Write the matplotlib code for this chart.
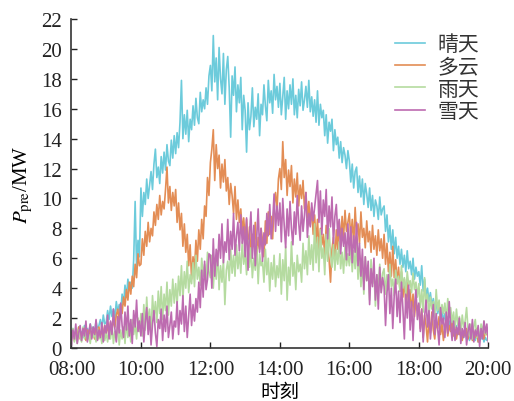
import numpy as np
import matplotlib
matplotlib.use("Agg")
import matplotlib.pyplot as plt

# 2.5-minute samples, 08:00 .. 20:00 (one row per hour, last value = 20:00)
sunny = [
    0.9, 1.3, 0.7, 1.2, 0.6, 1.4, 0.9, 1.1, 0.7, 1.5, 1.0, 1.3, 0.8, 1.6, 1.1, 1.4, 1.0, 1.8, 1.2, 1.5, 1.9, 1.3, 2.2, 1.6,
    1.7, 2.5, 1.9, 2.8, 2.1, 2.6, 2.0, 3.1, 2.4, 2.9, 2.3, 3.6, 2.9, 4.2, 3.4, 4.6, 3.9, 4.4, 4.0, 5.9, 9.8, 5.4, 7.2, 6.1,
    10.7, 8.8, 10.4, 9.6, 11.3, 10.0, 10.9, 11.8, 10.6, 12.3, 13.3, 11.4, 12.1, 11.0, 12.8, 11.7, 13.1, 11.9, 13.6, 12.5, 12.2, 13.9, 12.7, 14.2,
    13.0, 14.4, 13.4, 15.1, 17.9, 14.0, 15.6, 14.3, 15.9, 13.8, 15.3, 14.6, 16.2, 14.9, 16.7, 15.4, 15.0, 17.1, 15.8, 16.6, 16.0, 17.4, 16.3, 18.2,
    18.9, 17.2, 20.9, 17.8, 19.4, 16.6, 20.1, 18.0, 17.0, 19.7, 16.3, 18.6, 19.5, 17.4, 14.1, 18.2, 16.9, 18.8, 15.8, 17.6, 16.4, 18.1, 14.6, 16.9,
    15.9, 13.1, 16.4, 14.6, 15.5, 17.4, 14.8, 16.1, 15.3, 17.0, 14.2, 16.3, 15.6, 17.6, 16.2, 15.2, 17.9, 16.4, 17.2, 15.7, 18.3, 16.6, 17.5, 16.1,
    17.7, 15.6, 16.8, 18.1, 15.3, 17.2, 16.0, 17.6, 16.3, 18.0, 15.6, 16.9, 15.4, 17.3, 16.2, 17.8, 15.9, 16.6, 17.5, 16.1, 17.9, 15.8, 16.8, 15.5,
    16.6, 15.1, 17.2, 14.9, 16.3, 15.4, 15.9, 14.2, 15.6, 13.7, 15.1, 14.5, 15.3, 13.2, 14.6, 13.6, 14.1, 12.7, 13.8, 12.4, 13.4, 12.9, 12.0, 13.2,
    12.5, 11.1, 12.3, 10.7, 11.8, 12.1, 10.4, 11.5, 10.1, 11.3, 9.6, 11.0, 10.3, 9.4, 10.7, 9.2, 10.2, 8.8, 9.9, 9.5, 8.6, 10.1, 8.9, 9.3,
    9.5, 7.8, 8.9, 7.1, 8.2, 6.6, 7.9, 6.3, 7.4, 6.0, 6.8, 5.6, 6.6, 5.4, 6.2, 5.1, 6.5, 5.3, 5.8, 4.9, 6.0, 4.6, 5.4, 4.8,
    5.1, 4.2, 5.5, 3.8, 4.6, 3.4, 4.0, 3.1, 3.7, 2.8, 3.3, 2.6, 3.0, 2.3, 2.7, 2.1, 2.5, 1.8, 2.3, 1.6, 2.1, 1.5, 1.9, 1.4,
    1.7, 1.1, 1.5, 0.9, 1.4, 0.8, 1.2, 0.7, 1.3, 0.6, 1.0, 0.5, 1.1, 0.7, 0.9, 0.5, 1.0, 0.4, 0.8, 0.6, 0.9, 0.4, 0.7, 0.5,
    0.6,
]
cloudy = [
    0.8, 1.2, 0.5, 1.1, 0.7, 1.4, 0.6, 1.0, 0.9, 1.3, 0.5, 1.2, 0.8, 1.5, 0.7, 1.1, 0.6, 1.3, 0.9, 1.4, 0.7, 1.2, 1.0, 1.5,
    0.9, 1.5, 1.0, 1.7, 1.2, 1.9, 1.4, 2.2, 2.6, 1.8, 2.9, 2.3, 3.4, 2.8, 3.9, 3.2, 4.4, 3.6, 4.8, 4.1, 5.6, 4.7, 6.3, 5.5,
    5.6, 7.3, 6.2, 7.8, 6.8, 8.4, 7.1, 8.0, 7.5, 9.1, 8.2, 9.6, 8.6, 10.2, 8.9, 9.8, 9.3, 10.6, 12.1, 9.7, 10.8, 9.2, 10.4, 9.5,
    10.6, 8.4, 9.7, 7.9, 9.0, 6.8, 8.3, 6.4, 7.6, 5.5, 6.9, 4.6, 6.1, 5.2, 7.2, 5.8, 7.9, 6.6, 8.6, 7.3, 9.5, 8.8, 11.4, 10.2,
    12.4, 13.3, 14.6, 11.2, 13.6, 12.0, 12.9, 10.7, 12.3, 11.1, 12.6, 10.5, 11.4, 9.6, 11.0, 10.2, 9.0, 10.8, 8.6, 9.9, 8.4, 9.3, 7.8, 8.7,
    7.3, 8.6, 6.5, 8.1, 6.2, 7.6, 6.9, 8.4, 6.0, 7.4, 6.6, 8.0, 7.2, 6.1, 8.5, 7.0, 9.1, 7.6, 8.8, 7.3, 9.6, 10.4, 9.2, 11.3,
    12.0, 10.6, 13.8, 11.4, 12.6, 10.2, 11.9, 10.8, 12.2, 9.7, 11.3, 10.1, 11.7, 9.5, 10.9, 10.0, 11.2, 9.3, 10.4, 8.7, 9.8, 8.2, 9.4, 7.6,
    8.9, 7.0, 8.6, 6.4, 8.0, 6.9, 7.6, 6.1, 8.2, 6.7, 5.9, 4.4, 6.6, 7.4, 5.8, 7.9, 6.6, 8.5, 7.1, 8.8, 7.4, 9.2, 7.8, 8.4,
    9.0, 7.3, 8.6, 6.9, 9.4, 7.6, 8.3, 7.0, 9.1, 7.4, 8.0, 6.7, 8.5, 7.1, 7.8, 6.4, 8.2, 6.6, 7.5, 6.2, 7.9, 6.5, 7.3, 6.0,
    7.6, 5.6, 7.0, 5.1, 6.4, 4.8, 6.8, 4.7, 5.9, 4.3, 5.4, 3.8, 5.1, 3.4, 4.6, 2.9, 4.4, 2.7, 3.9, 2.4, 3.6, 2.1, 3.2, 2.5,
    2.9, 1.3, 2.6, 0.7, 2.2, 1.5, 0.4, 1.9, 1.0, 2.4, 1.2, 0.6, 1.8, 1.3, 2.1, 0.9, 1.6, 0.5, 1.4, 1.8, 0.8, 1.5, 1.1, 1.7,
    0.8, 1.4, 0.6, 1.2, 0.9, 1.5, 0.5, 1.1, 0.8, 1.3, 0.6, 1.0, 1.2, 0.5, 1.1, 0.7, 1.3, 0.4, 1.0, 0.8, 1.2, 0.6, 1.1, 0.9,
    0.8,
]
rainy = [
    0.6, 1.3, 0.4, 1.0, 0.3, 1.2, 0.7, 0.4, 1.4, 0.6, 1.1, 0.5, 0.9, 0.3, 1.2, 0.7, 1.0, 0.4, 1.3, 0.6, 0.9, 0.3, 1.1, 0.5,
    1.0, 0.4, 1.3, 0.6, 1.6, 0.3, 1.1, 0.5, 1.7, 0.2, 1.2, 0.6, 1.4, 0.3, 1.8, 0.7, 1.5, 0.4, 1.9, 0.9, 1.6, 0.6, 2.0, 1.1,
    2.3, 0.8, 2.9, 1.2, 3.4, 1.6, 2.6, 0.9, 3.5, 2.0, 3.1, 1.7, 3.8, 2.3, 4.1, 1.9, 3.6, 2.5, 4.4, 2.2, 3.9, 2.8, 4.6, 3.0,
    4.3, 2.9, 4.8, 3.5, 5.5, 3.2, 5.1, 4.0, 5.8, 3.7, 4.9, 4.3, 5.7, 4.1, 6.2, 4.6, 5.4, 4.2, 6.0, 4.8, 5.6, 4.4, 6.4, 5.1,
    4.7, 6.2, 4.0, 5.8, 4.6, 6.5, 3.9, 5.5, 4.4, 5.9, 2.9, 5.2, 5.8, 4.5, 6.6, 5.0, 6.2, 4.8, 6.9, 5.3, 6.4, 5.0, 7.1, 5.6,
    6.4, 4.9, 7.2, 5.4, 6.7, 4.7, 6.0, 5.2, 6.8, 4.3, 6.3, 5.5, 5.8, 4.4, 6.6, 4.9, 6.0, 3.8, 5.7, 4.6, 6.2, 4.1, 5.5, 4.7,
    6.3, 3.6, 5.9, 4.5, 6.8, 3.2, 5.4, 4.2, 7.1, 4.8, 5.7, 3.9, 6.2, 5.1, 5.6, 4.4, 7.0, 5.3, 6.5, 4.9, 7.5, 5.6, 6.9, 5.2,
    8.3, 5.7, 7.4, 5.1, 7.9, 6.0, 6.7, 4.9, 7.6, 5.8, 8.0, 6.2, 5.4, 6.9, 5.2, 6.6, 5.6, 7.1, 5.3, 6.4, 5.0, 6.8, 5.5, 6.3,
    5.5, 6.9, 5.1, 6.5, 5.3, 7.0, 4.6, 6.2, 4.1, 5.8, 3.6, 6.1, 4.5, 5.4, 3.2, 5.9, 4.3, 5.1, 2.8, 4.9, 4.0, 5.6, 3.7, 5.0,
    5.3, 3.6, 4.9, 3.9, 5.6, 4.1, 4.6, 3.5, 5.2, 4.3, 4.8, 3.8, 5.5, 4.0, 4.7, 3.6, 5.1, 4.2, 4.5, 3.7, 5.0, 3.9, 4.4, 3.4,
    4.3, 2.7, 3.9, 2.4, 4.7, 2.9, 3.6, 2.2, 3.4, 2.6, 3.1, 2.0, 3.9, 2.5, 3.2, 1.9, 2.9, 2.3, 3.0, 1.8, 3.3, 2.1, 2.7, 1.7,
    2.4, 1.3, 2.6, 1.5, 2.1, 1.0, 2.2, 1.4, 1.8, 2.7, 1.2, 0.8, 1.6, 0.6, 1.4, 1.9, 0.7, 1.3, 0.5, 1.6, 1.0, 1.8, 0.9, 1.3,
    0.5,
]
snowy = [
    0.2, 1.2, 0.6, 1.6, 0.3, 1.0, 1.5, 0.5, 1.3, 0.8, 1.8, 0.4, 1.1, 1.6, 0.6, 1.4, 0.9, 1.9, 0.5, 1.2, 0.7, 1.7, 0.4, 1.5,
    1.0, 2.2, 0.6, 1.8, 0.9, 2.6, 1.3, 0.4, 2.1, 1.0, 3.0, 1.5, 0.7, 2.4, 1.2, 2.8, 0.8, 1.9, 0.3, 2.5, 1.4, 3.2, 1.1, 1.8,
    0.8, 2.3, 0.4, 1.7, 2.7, 0.9, 2.1, 0.2, 1.6, 2.5, 1.0, 0.1, 1.9, 1.3, 2.6, 0.5, 2.2, 1.1, 2.8, 0.7, 1.5, 2.4, 0.6, 1.8,
    1.4, 3.1, 0.9, 2.5, 1.6, 3.5, 1.1, 2.8, 0.7, 2.2, 3.6, 1.5, 2.9, 1.8, 3.3, 2.4, 4.4, 2.7, 5.2, 3.4, 5.8, 3.9, 4.6, 6.3,
    6.2, 4.0, 7.3, 4.8, 6.6, 5.5, 7.6, 6.0, 8.3, 5.7, 7.1, 6.4, 8.6, 5.9, 7.8, 6.6, 9.0, 6.2, 7.5, 8.4, 6.5, 8.9, 7.0, 8.1,
    6.1, 8.7, 5.2, 7.6, 9.1, 6.0, 8.2, 5.5, 7.4, 9.3, 6.4, 8.0, 5.8, 7.7, 6.9, 9.0, 7.5, 9.6, 7.3, 8.4, 10.3, 7.8, 9.5, 8.2,
    9.7, 7.1, 10.0, 8.2, 6.7, 9.3, 7.5, 9.8, 8.0, 6.9, 9.1, 7.6, 10.2, 8.4, 7.2, 9.5, 7.8, 8.9, 10.4, 7.4, 9.0, 8.1, 9.7, 8.5,
    9.4, 10.3, 11.2, 8.4, 10.5, 7.6, 9.9, 8.8, 10.6, 7.3, 9.5, 8.1, 10.1, 7.0, 8.8, 9.6, 7.5, 8.6, 6.3, 8.0, 6.8, 7.7, 5.9, 8.3,
    6.2, 8.1, 5.7, 7.5, 6.4, 8.4, 5.5, 7.0, 4.8, 6.6, 3.9, 6.1, 4.5, 5.8, 2.9, 5.3, 4.1, 6.0, 3.2, 4.9, 2.6, 5.4, 3.7, 4.7,
    4.1, 1.5, 3.7, 4.9, 2.3, 4.0, 1.3, 3.5, 4.6, 2.1, 3.8, 1.7, 4.4, 2.6, 0.6, 3.6, 2.0, 4.2, 1.2, 3.1, 0.5, 2.8, 3.9, 1.9,
    3.0, 1.1, 2.6, 0.4, 2.1, 3.2, 1.4, 2.5, 0.6, 1.9, 2.9, 0.9, 2.3, 1.3, 0.2, 2.7, 1.6, 2.0, 0.7, 2.4, 1.0, 3.1, 1.5, 0.5,
    1.8, 0.5, 1.4, 0.9, 2.0, 0.3, 1.3, 0.7, 1.7, 0.2, 1.1, 1.6, 0.6, 1.9, 0.4, 1.2, 0.8, 1.5, 0.1, 1.3, 0.6, 1.8, 1.0, 1.6,
    0.4,
]
series_names = ["晴天", "多云", "雨天", "雪天"]
series_colors = ["#6ccbdb", "#e38d55", "#b5dba0", "#bd6bb0"]
tick_hours = [8, 10, 12, 14, 16, 18, 20]
tick_labels = ["08:00", "10:00", "12:00", "14:00", "16:00", "18:00", "20:00"]

plt.rcParams["font.family"] = ["Liberation Serif", "Noto Sans CJK SC"]
plt.rcParams["mathtext.fontset"] = "stix"
plt.rcParams["font.size"] = 15

fig = plt.figure(figsize=(5.14, 4.02), dpi=100)
ax = fig.add_axes([0.139, 0.132, 0.811, 0.818])

for vals, name, color in zip([sunny, cloudy, rainy, snowy], series_names, series_colors):
    hours = 8 + np.arange(len(vals)) * 2.5 / 60
    ax.plot(hours, vals, color=color, lw=1.2, label=name)

ax.set_xlim(8, 20)
ax.set_ylim(0, 22)
ax.set_xticks(tick_hours)
ax.set_xticklabels(tick_labels)
ax.set_yticks(np.arange(0, 23, 2))
ax.tick_params(direction="in", length=4, width=1.0, colors="#222222")
ax.tick_params(axis="x", pad=9)
ax.tick_params(axis="y", pad=7)
for side in ["top", "right"]:
    ax.spines[side].set_visible(False)
for side in ["left", "bottom"]:
    ax.spines[side].set_linewidth(1.2)
    ax.spines[side].set_color("#333333")

ax.set_ylabel(r"$P_{\mathrm{pre}}$/MW", labelpad=4)
ax.set_xlabel("时刻", family=["Noto Sans CJK SC"], fontsize=14, labelpad=1)

leg = ax.legend(loc="upper left", bbox_to_anchor=(0.731, 1.015), frameon=False,
                handlelength=1.45, handletextpad=0.6, labelspacing=0.02,
                prop={"family": "Noto Sans CJK SC", "size": 15})
for t in leg.get_texts():
    t.set_color("#333333")

fig.savefig("out.png", dpi=100)
